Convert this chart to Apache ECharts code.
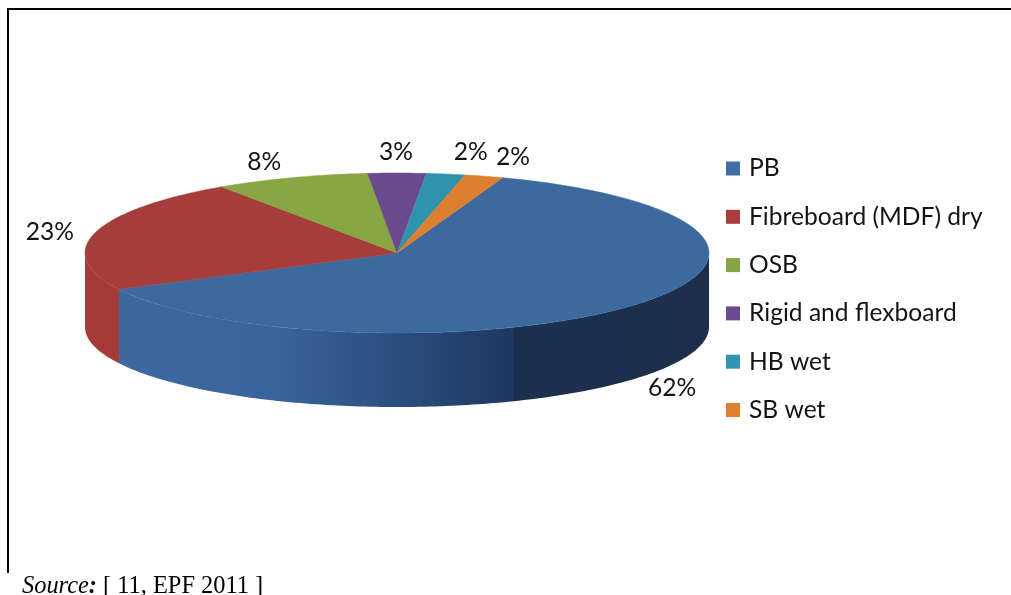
<!DOCTYPE html>
<html><head><meta charset="utf-8">
<style>html,body{margin:0;padding:0;background:#fff}#c{width:1011px;height:595px}</style>
<script src="https://cdn.jsdelivr.net/npm/echarts@6/dist/echarts.min.js"></script>
</head><body><div id="c"></div>
<script>
const categories = ['PB','Fibreboard (MDF) dry','OSB','Rigid and flexboard','HB wet','SB wet'];
const shares = [62,23,8,3,2,2];
const shareLabels = ['62%','23%','8%','3%','2%','2%'];

const topColors = ['#3c6a9f','#a53e3b','#89a644','#6a4a8c','#3093ae','#dd7f2e'];
const legendColors = ['#3f6ea6','#a83d3c','#86a544','#6b4c90','#2f97b2','#e0802e'];
const wallFill = [
  {type:'linear',x:118,y:0,x2:709,y2:0,global:true,colorStops:[
    {offset:0,color:'#3c6a9f'},{offset:0.28,color:'#38649a'},{offset:0.48,color:'#2b4d7c'},
    {offset:0.62,color:'#213d68'},{offset:0.669,color:'#1f3860'},{offset:0.67,color:'#1c3050'},{offset:1,color:'#1c2e4b'}]},
  '#a63a39','#6f8a35','#573c74','#277a90','#b86a24'
];
const labelOffsets = [[41,82],[-45,-1],[-27,-16],[-1,-21],[25,-22],[29,-19]];

const CX=397, CY=253, RX=312, RY=80, DEPTH=74, START=19.8;
const total = shares.reduce((a,b)=>a+b,0);
const rim = (deg,dy=0)=>{const r=deg*Math.PI/180;return [CX+RX*Math.sin(r),CY-RY*Math.cos(r)+dy];};
function arc(a,b,dy){const n=Math.max(2,Math.ceil(Math.abs(b-a)));const p=[];
  for(let i=0;i<=n;i++)p.push(rim(a+(b-a)*i/n,dy));return p;}

function makeRender(idx){
  return function(params,api){
    const before = shares.slice(0,idx).reduce((a,b)=>a+b,0);
    const a0 = START+before/total*360, a1 = a0+api.value(0)/total*360;
    const children=[];
    const wa=Math.max(a0,90), wb=Math.min(a1,270);
    if(wb>wa){
      const t=arc(wa,wb,0), b=arc(wb,wa,DEPTH);
      children.push({type:'polygon',shape:{points:t.concat(b)},z2:1,
        style:{fill:wallFill[idx]}});
    }
    children.push({type:'polygon',shape:{points:[[CX,CY]].concat(arc(a0,a1,0))},z2:2,
      style:{fill:topColors[idx],stroke:topColors[idx],lineWidth:0.5}});
    const m=rim((a0+a1)/2), o=labelOffsets[idx];
    children.push({type:'text',z2:3,x:m[0]+o[0],y:m[1]+o[1],
      style:{text:shareLabels[idx],fill:'#141414',font:'24.6px Lato',align:'center',verticalAlign:'middle'}});
    return {type:'group',children};
  };
}

const chart = echarts.init(document.getElementById('c'),null,{renderer:'canvas'});
chart.setOption({
  animation:false,
  backgroundColor:'#fff',
  legend:{
    orient:'vertical',left:721,top:149,itemWidth:14,itemHeight:14,itemGap:19.3,
    icon:'rect',selectedMode:false,data:categories,
    textStyle:{fontFamily:'Lato',fontSize:24.6,color:'#141414',padding:[0,0,0,4],lineHeight:29}
  },
  graphic:[
    {type:'line',shape:{x1:8,y1:9,x2:1011,y2:9},style:{stroke:'#000',lineWidth:2}},
    {type:'line',shape:{x1:8,y1:8,x2:8,y2:573},style:{stroke:'#000',lineWidth:2}},
    {type:'text',left:22,top:575,style:{
      text:'{i|Source}{b|:}{r| [ 11, EPF 2011 ]}',
      rich:{
        i:{font:'italic 24.4px "Liberation Serif"',fill:'#000'},
        b:{font:'italic bold 24.4px "Liberation Serif"',fill:'#000'},
        r:{font:'24.4px "Liberation Serif"',fill:'#000'}
      }}}
  ],
  series:categories.map((name,i)=>({
    type:'custom',name,coordinateSystem:'none',silent:true,
    itemStyle:{color:legendColors[i]},
    renderItem:makeRender(i),
    data:[[shares[i]]]
  }))
});
</script></body></html>
